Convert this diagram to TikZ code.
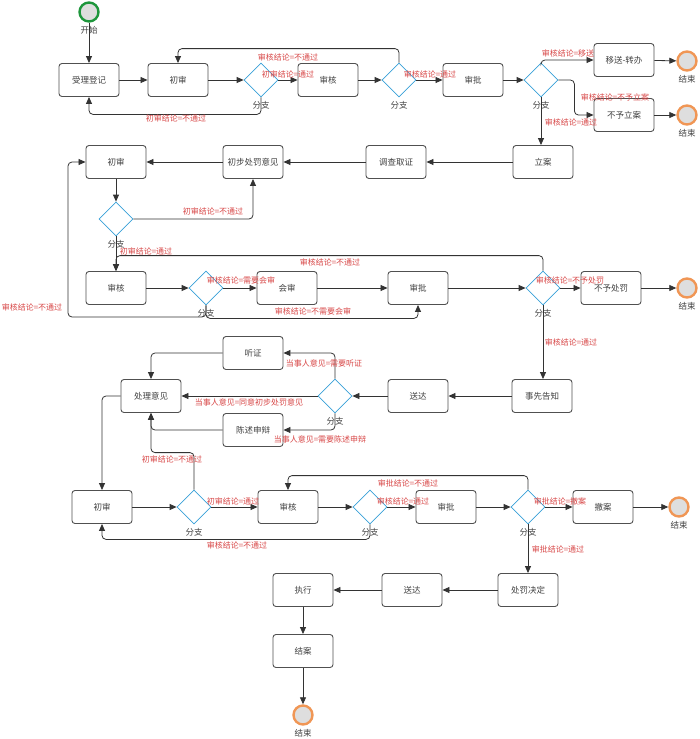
\documentclass[tikz,border=0pt]{standalone}
\usepackage{fontspec}
\newfontfamily\cjk{Noto Sans CJK SC}
\usepackage{tikz}
\usetikzlibrary{arrows.meta}
\usetikzlibrary{shapes.geometric}

\definecolor{boxline}{RGB}{80,80,80}
\definecolor{gatecol}{RGB}{55,160,215}
\definecolor{lblred}{RGB}{215,70,70}
\definecolor{startgreen}{RGB}{30,150,60}
\definecolor{endorange}{RGB}{240,150,85}
\definecolor{evfill}{RGB}{222,222,222}

\begin{document}
\begin{tikzpicture}[x=1pt,y=-1pt,>={Triangle[length=7pt,width=6pt]},
        font=\cjk\fontsize{8.5}{9}\selectfont,
        task/.style={draw=boxline, line width=0.9pt, rounded corners=3pt,
            minimum width=60pt, minimum height=33pt, text=black!75},
        gate/.style={diamond, draw=gatecol, line width=0.8pt, minimum size=34pt,
            inner sep=0pt, label={[text=black!75,label distance=0pt]below:分支}},
        startev/.style={circle, draw=startgreen, fill=evfill, line width=2.4pt,
            minimum size=19pt, inner sep=0pt, label={[text=black!75]below:开始}},
        endev/.style={circle, draw=endorange, fill=evfill, line width=2.4pt,
            minimum size=19pt, inner sep=0pt, label={[text=black!75]below:结束}},
        lbl/.style={text=lblred, inner sep=0pt, font=\cjk\fontsize{8}{8}\selectfont},
        flow/.style={->, draw=black!80, line width=0.8pt, rounded corners=4pt}]

        \useasboundingbox (0,0) rectangle (700,739);

        % first row
        \node[startev] (start) at (89,12) {};
        \node[task] (reg) at (89,80) {受理登记};
        \node[task] (cs1) at (178,80) {初审};
        \node[gate] (d1) at (261,80) {};
        \node[task] (sh1) at (328,80) {审核};
        \node[gate] (d2) at (399,80) {};
        \node[task] (sp1) at (473,80) {审批};
        \node[gate] (d3) at (541,80) {};
        \node[task] (ys) at (624,60) {移送-转办};
        \node[task] (byla) at (624,115) {不予立案};
        \node[endev] (end1) at (687,61) {};
        \node[endev] (end2) at (687,115) {};
        \node[task] (la) at (543,162) {立案};
        \node[task] (dc) at (396,162) {调查取证};
        \node[task] (cbyj) at (253,162) {初步处罚意见};
        \node[task] (cs2) at (116,162) {初审};

        % second part
        \node[gate] (d4) at (116,219) {};
        \node[task] (sh2) at (116,288) {审核};
        \node[gate] (d5) at (206,288) {};
        \node[task] (hs) at (287,288) {会审};
        \node[task] (sp2) at (418,288) {审批};
        \node[gate] (d6) at (543,288) {};
        \node[task] (bycf) at (611,288) {不予处罚};
        \node[endev] (end3) at (687,288) {};

        % third part
        \node[task] (xxgz) at (542,396) {事先告知};
        \node[task] (sd1) at (418,396) {送达};
        \node[gate] (d7) at (335,396) {};
        \node[task] (tz) at (253,353) {听证};
        \node[task] (cssb) at (253,430) {陈述申辩};
        \node[task] (clyj) at (151,396) {处理意见};

        % fourth part
        \node[task] (cs3) at (102,507) {初审};
        \node[gate] (d8) at (194,507) {};
        \node[task] (sh3) at (288,507) {审核};
        \node[gate] (d9) at (370,507) {};
        \node[task] (sp3) at (446,507) {审批};
        \node[gate] (d10) at (528,507) {};
        \node[task] (ca) at (603,507) {撤案};
        \node[endev] (end4) at (679,507) {};
        \node[task] (cfjd) at (528,590) {处罚决定};
        \node[task] (sd2) at (412,590) {送达};
        \node[task] (zx) at (303,590) {执行};
        \node[task] (ja) at (303,651) {结案};
        \node[endev] (end5) at (303,715) {};

        % connectors
        \draw[flow] (start) -- (reg);
        \draw[flow] (reg) -- (cs1);
        \draw[flow] (cs1) -- (d1);
        \draw[flow] (d1) -- (sh1);
        \draw[flow] (d1.south) -- ++(0,17) -| (reg.south);
        \draw[flow] (sh1) -- (d2);
        \draw[flow] (d2.north) -- ++(0,-14) -| (cs1.north);
        \draw[flow] (d2) -- (sp1);
        \draw[flow] (sp1) -- (d3);
        \draw[flow] (d3.north) |- (ys.west);
        \draw[flow] (d3.east) -- ++(16,0) |- (byla.west);
        \draw[flow] (d3.south) -- (la.north -| d3.south);
        \draw[flow] (ys) -- (end1);
        \draw[flow] (byla) -- (end2);
        \draw[flow] (la) -- (dc);
        \draw[flow] (dc) -- (cbyj);
        \draw[flow] (cbyj) -- (cs2);

        \draw[flow] (cs2) -- (d4);
        \draw[flow] (d4.east) -| (cbyj.south);
        \draw[flow] (d4) -- (sh2);
        \draw[flow] (sh2) -- (d5);
        \draw[flow] (d5) -- (hs);
        \draw[flow] (hs) -- (sp2);
        \draw[flow] (d5.south) -- ++(0,13) -| (sp2.south);
        \draw[flow] (d5.south) |- (68,317) |- (cs2.west);
        \draw[flow] (sp2) -- (d6);
        \draw[flow] (d6.north) -- ++(0,-15) -| (sh2.north);
        \draw[flow] (d6) -- (bycf);
        \draw[flow] (bycf) -- (end3);
        \draw[flow] (d6.south) -- (xxgz.north -| d6.south);

        \draw[flow] (xxgz) -- (sd1);
        \draw[flow] (sd1) -- (d7);
        \draw[flow] (d7.north) |- (tz.east);
        \draw[flow] (d7) -- (clyj);
        \draw[flow] (d7.south) |- (cssb.east);
        \draw[flow] (tz.west) -| (clyj.north);
        \draw[flow] (cssb.west) -| (clyj.south);
        \draw[flow] (clyj.west) -| (cs3.north);

        \draw[flow] (cs3) -- (d8);
        \draw[flow] (d8.north) -- ++(0,-37) -| (clyj.south);
        \draw[flow] (d8) -- (sh3);
        \draw[flow] (sh3) -- (d9);
        \draw[flow] (d9.south) -- ++(0,15) -| (cs3.south);
        \draw[flow] (d9) -- (sp3);
        \draw[flow] (sp3) -- (d10);
        \draw[flow] (d10.north) -- ++(0,-14) -| (sh3.north);
        \draw[flow] (d10) -- (ca);
        \draw[flow] (ca) -- (end4);
        \draw[flow] (d10) -- (cfjd);
        \draw[flow] (cfjd) -- (sd2);
        \draw[flow] (sd2) -- (zx);
        \draw[flow] (zx) -- (ja);
        \draw[flow] (ja) -- (end5);

        % condition labels
        \node[lbl] (l1) at (288,74) {初审结论=通过};
        \node[lbl] (l2) at (288,57) {审核结论=不通过};
        \node[lbl] (l3) at (176,118) {初审结论=不通过};
        \node[lbl] (l4) at (430,74) {审核结论=通过};
        \node[lbl] (l5) at (568,53) {审核结论=移送};
        \node[lbl] (l6) at (615,97) {审核结论=不予立案};
        \node[lbl] (l7) at (571,122) {审核结论=通过};
        \node[lbl] (l8) at (213,211) {初审结论=不通过};
        \node[lbl] (l9) at (146,251) {初审结论=通过};
        \node[lbl] (l10) at (241,280) {审核结论=需要会审};
        \node[lbl] (l11) at (313,311) {审核结论=不需要会审};
        \node[lbl] (l12) at (32,307) {审核结论=不通过};
        \node[lbl] (l13) at (330,262) {审核结论=不通过};
        \node[lbl] (l14) at (570,280) {审核结论=不予处罚};
        \node[lbl] (l15) at (571,342) {审核结论=通过};
        \node[lbl] (l16) at (324,363) {当事人意见=需要听证};
        \node[lbl] (l17) at (249,402) {当事人意见=同意初步处罚意见};
        \node[lbl] (l18) at (320,439) {当事人意见=需要陈述申辩};
        \node[lbl] (l19) at (172,459) {初审结论=不通过};
        \node[lbl] (l20) at (233,501) {初审结论=通过};
        \node[lbl] (l21) at (237,545) {审核结论=不通过};
        \node[lbl] (l22) at (403,501) {审核结论=通过};
        \node[lbl] (l23) at (408,483) {审批结论=不通过};
        \node[lbl] (l24) at (560,501) {审批结论=撤案};
        \node[lbl] (l25) at (558,549) {审批结论=通过};
\end{tikzpicture}
\end{document}
